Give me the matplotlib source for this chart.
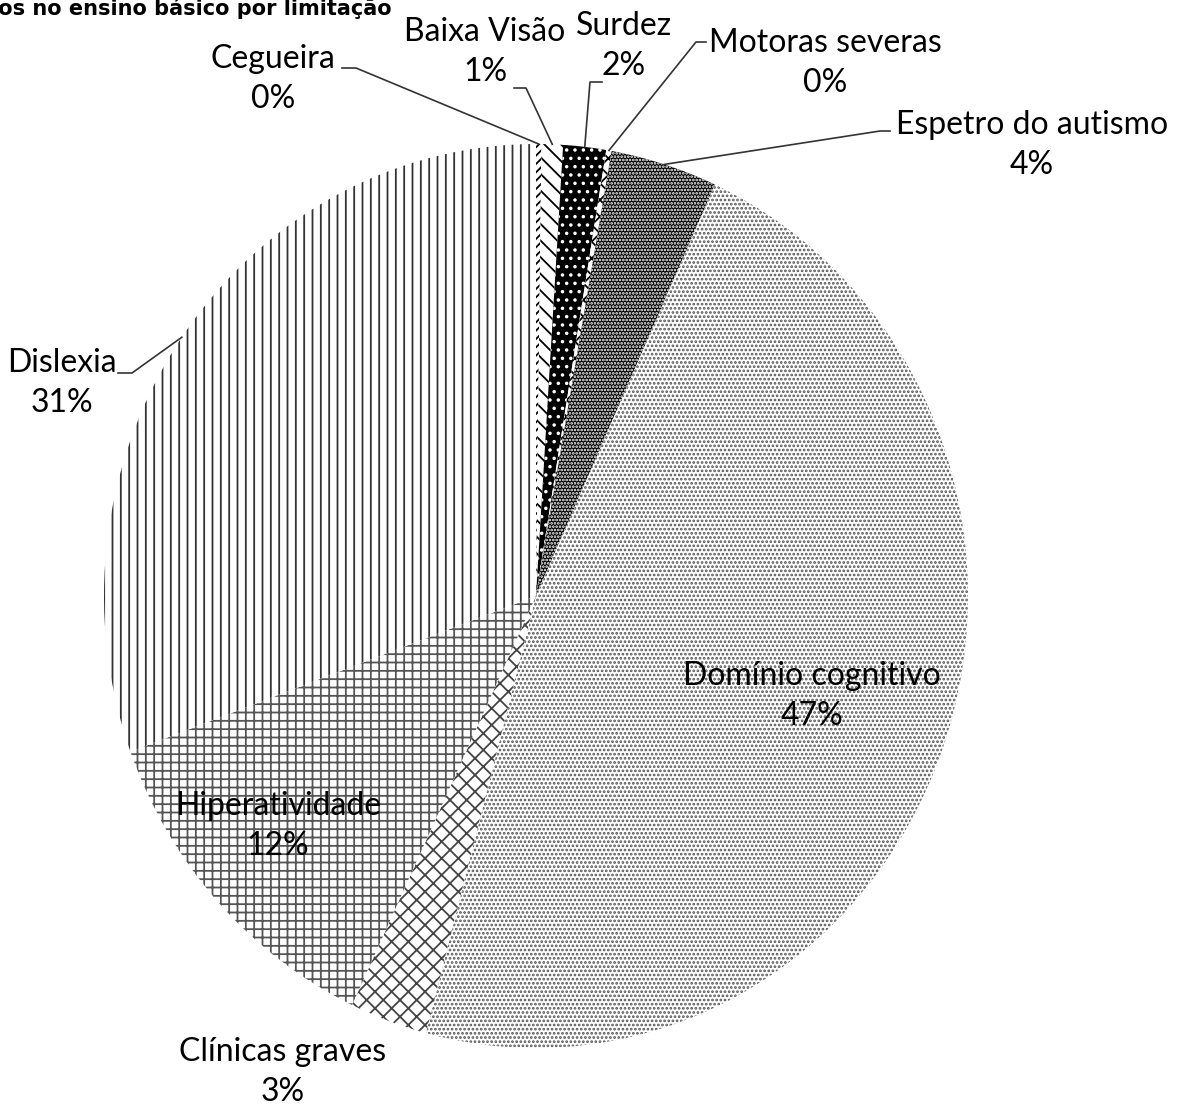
import numpy as np
import matplotlib
matplotlib.use("Agg")
import matplotlib.pyplot as plt

plt.rcParams['hatch.linewidth'] = 1.3

# data (percent of pupils per limitation)
categories = ["Cegueira", "Baixa Visão", "Surdez", "Motoras severas",
              "Espetro do autismo", "Domínio cognitivo", "Clínicas graves",
              "Hiperatividade", "Dislexia"]
values = [0.2, 0.8, 1.6, 0.2, 4.0, 47.3, 2.9, 12.4, 30.6]

# styling of each slice: face, hatch colour, hatch pattern
faces = ["white", "white", "black", "white", "black", "white", "white", "white", "white"]
hcols = ["black", "black", "white", "black", "white", "#555555", "#444444", "#555555", "#333333"]
hatches = ["////", "\\\\", "..", "xx", ".....", "....", "xx", "++", "||"]

W, H = 1178, 1105
CX, CY, RX, RY = 536, 596, 432, 452


def px(x, y):
    # pixel position in the picture -> data coordinates
    return (x - CX) / RX, (CY - y) / RY


fig = plt.figure(figsize=(W / 100, H / 100), dpi=100)
ax = fig.add_axes([0, 0, 1, 1])

wedges, _ = ax.pie(values, startangle=90, counterclock=False, radius=1,
                   wedgeprops=dict(linewidth=0))
for w, f, hc, h in zip(wedges, faces, hcols, hatches):
    w.set_facecolor(f)
    w.set_edgecolor(hc)
    w.set_hatch(h)
    w.set_linewidth(0)

ax.set_aspect('auto')
ax.set_xlim(px(0, 0)[0], px(W, 0)[0])
ax.set_ylim(px(0, H)[1], px(0, 0)[1])
ax.axis('off')

font = "Lato"
labels = [f"{c}\n{round(v):d}%" for c, v in zip(categories, values)]

# label block centres (pixels) and leader start (pixels) or None
label_pos = [(273, 79), (485, 52), (624, 46), (825, 63), (1032, 145),
             (812, 696), (283, 1072), (278, 826), (62, 383)]
leader = [[(342, 68), (356, 68)], [(514, 88), (526, 88)], [(602, 82), (590, 82)],
          [(706, 42), (696, 42)], [(890, 131), (880, 131)],
          None, None, None, [(118, 373), (132, 373)]]

for w, lab, pos, ld in zip(wedges, labels, label_pos, leader):
    x, y = px(*pos)
    ax.text(x, y, lab, ha='center', va='center', fontsize=23, family=font,
            linespacing=1.4, color='black')
    if ld is not None:
        mid = np.deg2rad((w.theta1 + w.theta2) / 2)
        pts = [px(*p) for p in ld] + [(np.cos(mid), np.sin(mid))]
        ax.plot([p[0] for p in pts], [p[1] for p in pts], color='#333333', lw=1.2)

fig.text(392 / W, 1 - 8 / H, "Distribuição dos alunos no ensino básico por limitação",
         ha='right', va='center', fontsize=15, fontweight='bold', family="DejaVu Sans")

fig.savefig("out.png", dpi=100)
